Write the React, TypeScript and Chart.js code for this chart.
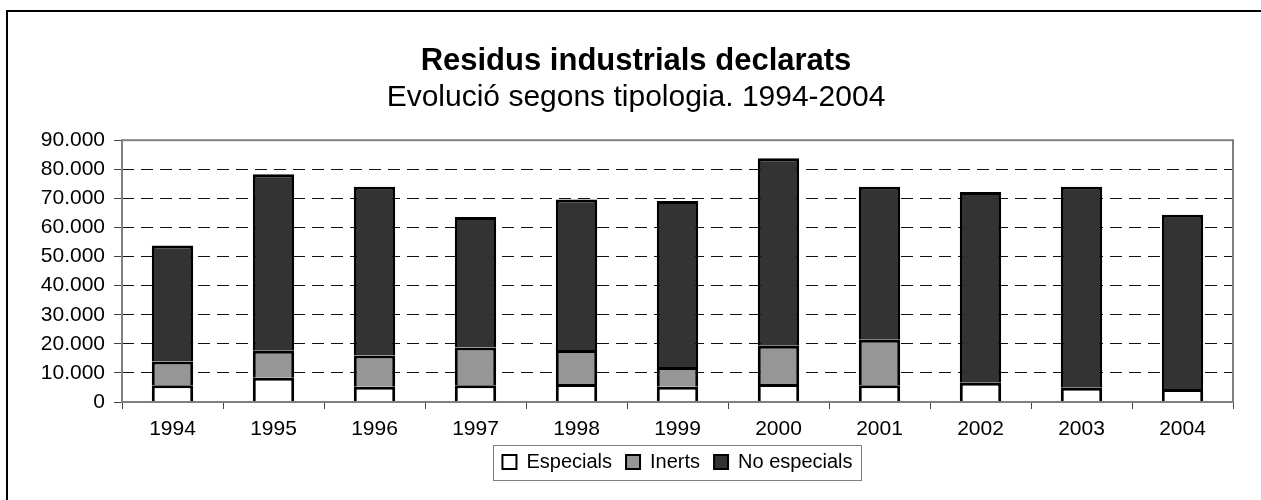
import React, { useEffect, useRef } from "react";
import { Chart, registerables } from "chart.js";

Chart.register(...registerables);

const years = ["1994", "1995", "1996", "1997", "1998", "1999", "2000", "2001", "2002", "2003", "2004"];
const especials = [5800, 8300, 5200, 5800, 6200, 5200, 6200, 5800, 6600, 4900, 4500];
const inerts = [8100, 9300, 10800, 12900, 11700, 6800, 13100, 15600, 0, 0, 0];
const noEspecials = [39900, 60700, 58000, 44900, 51700, 57100, 64500, 52600, 65600, 69100, 59900];
const seriesLabels = ["Especials", "Inerts", "No especials"];
const titleText = "Residus industrials declarats";
const subtitleText = "Evolució segons tipologia. 1994-2004";

const FONT = "'Liberation Sans', Arial, Helvetica, sans-serif";

function fmt(v: number): string {
  return String(Math.round(v)).replace(/\B(?=(\d{3})+(?!\d))/g, ".");
}

const decorPlugin = {
  id: "decor",
  beforeDraw(chart: any) {
    const { ctx, width, height } = chart;
    ctx.save();
    ctx.fillStyle = "#ffffff";
    ctx.fillRect(0, 0, width, height);
    ctx.strokeStyle = "#000000";
    ctx.lineWidth = 2;
    ctx.strokeRect(7, 11, width + 100, height + 100);
    ctx.restore();
  },
  afterDatasetsDraw(chart: any) {
    const { ctx, chartArea } = chart;
    ctx.save();
    ctx.strokeStyle = "#808080";
    ctx.lineWidth = 2;
    ctx.strokeRect(chartArea.left, chartArea.top, chartArea.right - chartArea.left, chartArea.bottom - chartArea.top);
    ctx.restore();
  },
  afterDraw(chart: any) {
    const lg = chart.legend;
    if (!lg || !lg.legendHitBoxes || !lg.legendHitBoxes.length) return;
    const hb = lg.legendHitBoxes;
    const first = hb[0];
    const last = hb[hb.length - 1];
    const cy = first.top + first.height / 2;
    const { ctx } = chart;
    ctx.save();
    ctx.strokeStyle = "#808080";
    ctx.lineWidth = 1;
    const l = Math.round(first.left - 9) + 0.5;
    const r = Math.round(last.left + last.width + 8) + 0.5;
    const t = Math.round(cy - 17.5) + 0.5;
    const b = Math.round(cy + 17.5) + 0.5;
    ctx.strokeRect(l, t, r - l, b - t);
    ctx.restore();
  },
};

export default function App() {
  const ref = useRef<HTMLCanvasElement | null>(null);

  useEffect(() => {
    if (!ref.current) return;
    const chart = new Chart(ref.current, {
      type: "bar",
      data: {
        labels: years,
        datasets: [
          { label: seriesLabels[0], data: especials, backgroundColor: "#ffffff", borderColor: "#000000", borderWidth: 3 },
          { label: seriesLabels[1], data: inerts, backgroundColor: "#969696", borderColor: "#000000", borderWidth: 3 },
          { label: seriesLabels[2], data: noEspecials, backgroundColor: "#333333", borderColor: "#000000", borderWidth: 3 },
        ],
      },
      options: {
        responsive: false,
        animation: false,
        devicePixelRatio: 1,
        layout: { padding: { left: 39, right: 28, top: 0, bottom: 18 } },
        datasets: {
          bar: { barPercentage: 0.41, categoryPercentage: 1, borderSkipped: "start" },
        },
        plugins: {
          title: {
            display: true,
            text: titleText,
            color: "#000",
            font: { family: FONT, size: 31, weight: "bold" },
            padding: { top: 43, bottom: 0 },
          },
          subtitle: {
            display: true,
            text: subtitleText,
            color: "#000",
            font: { family: FONT, size: 30, weight: "normal" },
            padding: { top: 0, bottom: 24 },
          },
          legend: {
            position: "bottom",
            fullSize: false,
            labels: {
              color: "#000",
              font: { family: FONT, size: 20 },
              boxWidth: 14,
              boxHeight: 14,
              padding: 14,
              generateLabels: (c: any) =>
                Chart.defaults.plugins.legend.labels.generateLabels(c).map((it: any) => ({ ...it, lineWidth: 2 })),
            },
          },
          tooltip: { enabled: false },
        },
        scales: {
          x: {
            stacked: true,
            grid: {
              offset: true,
              drawOnChartArea: false,
              drawTicks: true,
              tickLength: 7,
              tickColor: "#444",
              tickWidth: 1,
              tickBorderDash: [],
            },
            border: { display: false },
            ticks: { color: "#000", font: { family: FONT, size: 21 }, padding: 8, maxRotation: 0 },
            afterFit: (s: any) => {
              s.height = 36;
            },
          },
          y: {
            stacked: true,
            min: 0,
            max: 90000,
            grid: {
              color: (c: any) => (c.tick && (c.tick.value === 0 || c.tick.value === 90000) ? "rgba(0,0,0,0)" : "#111"),
              lineWidth: 1,
              tickBorderDash: [],
              tickLength: 8,
              tickColor: "#444",
              tickWidth: 1,
            },
            border: { display: false, dash: [12, 7] },
            ticks: {
              stepSize: 10000,
              color: "#000",
              font: { family: FONT, size: 21 },
              padding: 9,
              callback: (v: any) => fmt(Number(v)),
            },
            afterFit: (s: any) => {
              s.width = 83;
            },
          },
        },
      },
      plugins: [decorPlugin],
    } as any);
    return () => chart.destroy();
  }, []);

  return (
    <div style={{ position: "absolute", left: 0, top: 0, width: 1261, height: 500, background: "#fff" }}>
      <canvas ref={ref} width={1261} height={500} style={{ display: "block", width: 1261, height: 500 }} />
    </div>
  );
}
